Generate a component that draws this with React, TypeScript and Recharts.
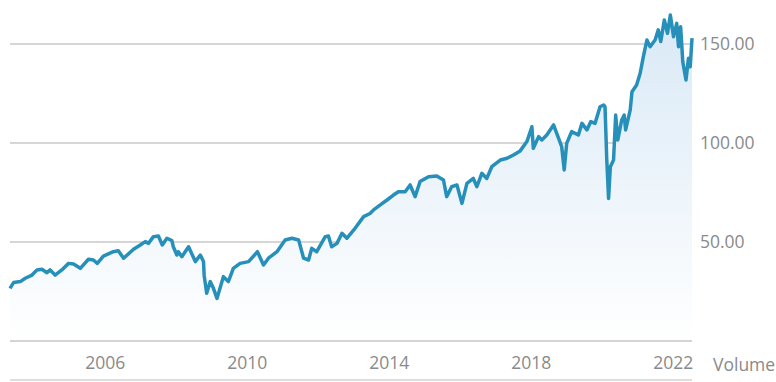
import React from "react";
import { AreaChart, Area, XAxis, YAxis, CartesianGrid, Label } from "recharts";

// decimal years
const dates: number[] = [
  2003.32, 2003.42, 2003.61, 2003.75, 2003.94, 2004.08, 2004.22, 2004.36, 2004.45, 2004.59,
  2004.78, 2004.97, 2005.11, 2005.30, 2005.53, 2005.67, 2005.78, 2005.95, 2006.23, 2006.37,
  2006.52, 2006.80, 2006.99, 2007.13, 2007.22, 2007.36, 2007.50, 2007.61, 2007.74, 2007.88,
  2007.92, 2008.02, 2008.06, 2008.16, 2008.35, 2008.54, 2008.68, 2008.77, 2008.79, 2008.86,
  2008.96, 2009.05, 2009.15, 2009.33, 2009.47, 2009.61, 2009.80, 2010.04, 2010.29, 2010.46,
  2010.60, 2010.84, 2011.07, 2011.26, 2011.45, 2011.59, 2011.73, 2011.82, 2011.96, 2012.20,
  2012.29, 2012.38, 2012.53, 2012.67, 2012.81, 2013.04, 2013.28, 2013.46, 2013.56, 2013.75,
  2013.94, 2014.12, 2014.26, 2014.45, 2014.59, 2014.73, 2014.87, 2015.11, 2015.34, 2015.53,
  2015.62, 2015.76, 2015.91, 2016.05, 2016.19, 2016.37, 2016.47, 2016.61, 2016.75, 2016.89,
  2017.13, 2017.32, 2017.50, 2017.69, 2017.88, 2018.02, 2018.06, 2018.21, 2018.30, 2018.44,
  2018.63, 2018.77, 2018.86, 2018.93, 2019.00, 2019.14, 2019.33, 2019.43, 2019.57, 2019.68,
  2019.80, 2019.94, 2020.04, 2020.08, 2020.13, 2020.18, 2020.23, 2020.32, 2020.38, 2020.44,
  2020.55, 2020.62, 2020.66, 2020.79, 2020.84, 2020.97, 2021.07, 2021.16, 2021.26, 2021.35,
  2021.49, 2021.58, 2021.65, 2021.75, 2021.84, 2021.92, 2022.01, 2022.10, 2022.15, 2022.21,
  2022.27, 2022.36, 2022.43, 2022.48, 2022.53,
];

const prices: number[] = [
  26.6, 29.5, 30.0, 31.7, 33.3, 35.9, 36.2, 34.5, 35.9, 33.3,
  35.9, 39.2, 38.9, 36.7, 41.3, 40.9, 39.2, 42.9, 45.1, 45.6,
  41.8, 46.3, 48.5, 50.2, 49.3, 52.7, 53.0, 48.5, 51.9, 50.7,
  47.6, 43.4, 45.1, 42.6, 47.6, 40.1, 43.4, 40.1, 33.0, 24.1,
  30.0, 26.6, 21.5, 32.5, 30.0, 36.7, 39.2, 40.1, 45.1, 38.4,
  41.8, 45.1, 51.0, 51.9, 51.0, 41.8, 40.9, 46.8, 45.1, 52.7,
  53.0, 47.6, 49.3, 54.4, 51.9, 56.9, 62.8, 64.4, 66.2, 68.7,
  71.2, 73.7, 75.4, 75.4, 78.8, 72.9, 80.5, 83.0, 83.3, 81.3,
  72.9, 77.9, 78.8, 69.5, 79.6, 82.1, 77.9, 84.7, 82.1, 88.0,
  91.4, 92.3, 93.9, 96.0, 100.7, 108.2, 97.3, 103.2, 101.5, 104.0,
  109.1, 102.4, 98.1, 86.4, 99.8, 105.7, 104.0, 109.9, 106.6, 110.8,
  109.9, 118.3, 119.2, 118.3, 91.4, 72.0, 88.0, 91.4, 114.1, 101.5,
  111.6, 114.1, 106.6, 116.7, 125.9, 129.3, 135.2, 143.6, 152.0, 148.6,
  152.0, 157.1, 151.2, 162.1, 155.4, 164.6, 153.7, 160.4, 148.6, 158.7,
  141.1, 131.8, 142.8, 138.5, 152.9,
];

const xTicks: number[] = [2006, 2010, 2014, 2018, 2022];
const yTicks: number[] = [50, 100, 150];
const volumeLabel = "Volume";

const data = dates.map((d, i) => ({ date: d, price: prices[i] }));

const FONT = "'Open Sans', sans-serif";
const TEXT = "#8a8a8a";

export default function App() {
  return (
    <div style={{ position: "absolute", left: 0, top: 0, width: 776, height: 382, background: "#fff" }}>
      <AreaChart width={776} height={382} data={data} margin={{ top: 0, right: 0, bottom: 0, left: 10 }}>
        <defs>
          <linearGradient id="fillGrad" x1="0" y1="0" x2="0" y2="1">
            <stop offset="0%" stopColor="#d9e9f6" />
            <stop offset="100%" stopColor="#ffffff" />
          </linearGradient>
        </defs>
        <CartesianGrid vertical={false} stroke="#c8c8c8" strokeWidth={1.5} horizontalValues={yTicks} />
        <XAxis
          dataKey="date"
          type="number"
          domain={["dataMin", "dataMax"]}
          ticks={xTicks}
          tickLine={false}
          axisLine={{ stroke: "#d4d4d4", strokeWidth: 2 }}
          tickMargin={10}
          height={41}
          tick={{ fill: TEXT, fontSize: 17.5, fontFamily: FONT }}
          interval={0}
        >
          <Label value={volumeLabel} position="right" offset={21} dy={3} fill={TEXT} fontSize={17.5} fontFamily={FONT} />
        </XAxis>
        <YAxis
          orientation="right"
          domain={[0, 172.2]}
          ticks={yTicks}
          tickFormatter={(v: number) => v.toFixed(2)}
          axisLine={false}
          tickLine={false}
          width={84}
          tick={{ fill: TEXT, fontSize: 17.5, fontFamily: FONT, textAnchor: "start" }}
        />
        <Area
          type="linear"
          dataKey="price"
          stroke="#2690ba"
          strokeWidth={3.5}
          strokeLinejoin="round"
          fill="url(#fillGrad)"
          fillOpacity={1}
          isAnimationActive={false}
          dot={false}
          activeDot={false}
        />
      </AreaChart>
      <div style={{ position: "absolute", left: 10, top: 379, width: 682, borderTop: "2px solid #dedede" }} />
    </div>
  );
}
